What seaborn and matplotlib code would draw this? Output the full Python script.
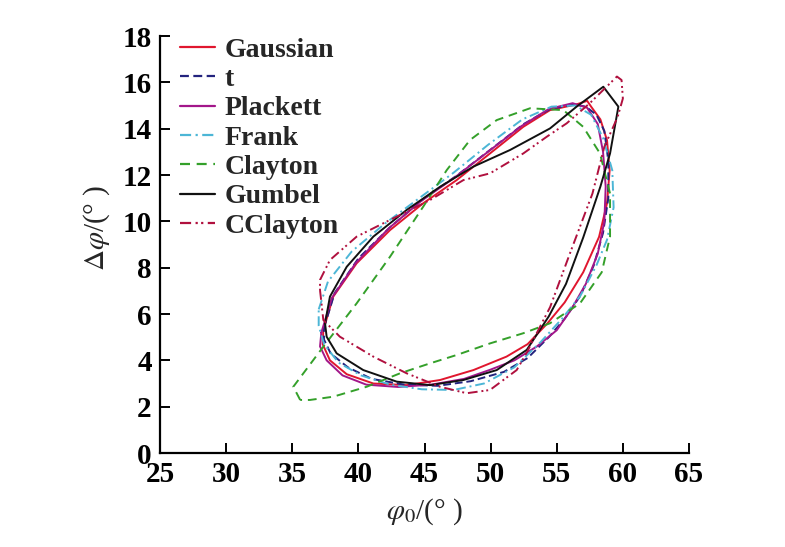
import numpy as np
import pandas as pd
import matplotlib
matplotlib.use("Agg")
import matplotlib.pyplot as plt
import seaborn as sns

# ---- data ----
models = ["Gaussian", "t", "Plackett", "Frank", "Clayton", "Gumbel", "CClayton"]

gauss_x = [37.35, 38.1, 39.87, 42.39, 44.9, 47.43, 49.95, 52.47, 54.49, 56.5, 57.3, 57.6, 58.3, 58.8, 59.0,
           58.8, 58.2, 57.0, 55.6, 54.3, 52.8, 51.2, 48.7, 46.17, 43.65, 41.13, 39.12, 37.85, 37.3]
gauss_y = [5.31, 6.75, 8.19, 9.62, 10.78, 11.78, 12.93, 14.08, 14.8, 15.05, 15.2, 14.95, 14.4, 13.5, 12.2,
           10.78, 9.33, 7.8, 6.5, 5.6, 4.7, 4.16, 3.58, 3.15, 2.93, 3.0, 3.4, 4.0, 4.7]

t_x = [37.4, 38.2, 40.0, 42.5, 45.0, 47.5, 50.0, 52.5, 54.5, 56.3, 57.2, 58.0, 58.6, 58.9, 58.9,
       58.5, 57.8, 56.8, 55.6, 54.4, 52.8, 51.0, 48.5, 46.0, 43.5, 41.0, 39.2, 37.9, 37.4]
t_y = [5.4, 6.9, 8.4, 9.8, 11.0, 12.0, 13.1, 14.2, 14.85, 15.05, 14.95, 14.6, 13.9, 12.6, 11.0,
       9.5, 8.1, 6.8, 5.8, 5.0, 4.1, 3.5, 3.1, 2.9, 2.95, 3.2, 3.7, 4.3, 4.9]

plackett_x = [37.2, 38.0, 39.8, 42.3, 44.8, 47.3, 49.8, 52.3, 54.4, 56.2, 57.3, 58.1, 58.5, 58.7, 58.6,
              58.1, 57.2, 56.1, 55.0, 53.5, 51.8, 50.0, 48.0, 45.5, 43.0, 40.6, 38.8, 37.6, 37.1]
plackett_y = [5.2, 6.7, 8.2, 9.7, 10.9, 11.9, 13.0, 14.1, 14.85, 15.1, 14.9, 14.2, 13.0, 11.5, 10.0,
              8.6, 7.3, 6.2, 5.3, 4.6, 4.0, 3.6, 3.2, 2.95, 2.85, 2.95, 3.35, 4.0, 4.6]

frank_x = [37.0, 37.7, 39.5, 42.0, 44.6, 47.2, 49.8, 52.4, 54.6, 56.4, 57.6, 58.5, 59.2, 59.3, 58.8,
           58.0, 56.8, 55.4, 53.8, 51.8, 49.5, 47.2, 44.8, 42.4, 40.2, 38.5, 37.4, 37.0]
frank_y = [6.2, 7.4, 8.7, 9.9, 11.0, 12.1, 13.3, 14.4, 14.95, 15.0, 14.6, 13.6, 12.2, 10.6, 9.2,
           8.1, 6.8, 5.8, 4.8, 3.7, 3.0, 2.72, 2.75, 2.95, 3.35, 3.9, 4.7, 5.5]

clayton_x = [35.6, 35.08, 37.35, 39.87, 42.39, 44.9, 46.68, 48.44, 50.46, 52.98, 55.5, 57.0, 58.27, 59.03,
             59.03, 58.4, 56.76, 54.49, 52.47, 49.95, 47.43, 45.42, 43.15, 40.63, 38.1, 36.34]
clayton_y = [2.29, 2.86, 4.59, 6.46, 8.47, 10.63, 12.21, 13.51, 14.37, 14.88, 14.8, 14.08, 12.93, 11.2,
             9.34, 7.8, 6.46, 5.6, 5.17, 4.73, 4.23, 3.87, 3.44, 2.86, 2.43, 2.29]

gumbel_x = [37.48, 37.85, 39.12, 41.13, 43.65, 46.17, 48.69, 51.47, 54.49, 56.5, 58.52, 59.66, 59.03,
            58.3, 57.0, 55.7, 54.4, 52.73, 50.46, 47.94, 45.42, 42.9, 40.37, 38.36, 37.6]
gumbel_y = [5.6, 6.75, 8.04, 9.34, 10.49, 11.49, 12.36, 13.08, 14.01, 14.95, 15.81, 14.95, 12.93,
            11.5, 9.3, 7.3, 5.9, 4.45, 3.58, 3.15, 2.93, 3.08, 3.58, 4.3, 5.02]

cclayton_x = [37.1, 37.35, 38.6, 41.13, 43.65, 46.17, 48.19, 49.95, 51.97, 52.7, 54.5, 56.0, 57.7, 58.6,
              59.6, 60.0, 59.9, 59.55, 57.5, 55.75, 54.24, 52.47, 49.95, 47.94, 45.42, 42.39, 39.87, 37.85, 37.1]
cclayton_y = [7.03, 5.74, 5.02, 4.16, 3.44, 2.86, 2.58, 2.72, 3.58, 4.3, 6.3, 8.62, 11.2, 13.22,
              14.5, 15.3, 16.1, 16.25, 15.1, 14.23, 13.65, 12.93, 12.07, 11.78, 10.92, 10.06, 9.34, 8.33, 7.47]

xticks = [25, 30, 35, 40, 45, 50, 55, 60, 65]
yticks = [0, 2, 4, 6, 8, 10, 12, 14, 16, 18]

series = {
    "Gaussian": (gauss_x, gauss_y),
    "t": (t_x, t_y),
    "Plackett": (plackett_x, plackett_y),
    "Frank": (frank_x, frank_y),
    "Clayton": (clayton_x, clayton_y),
    "Gumbel": (gumbel_x, gumbel_y),
    "CClayton": (cclayton_x, cclayton_y),
}

rows = []
for m in models:
    xs, ys = series[m]
    xs = list(xs) + [xs[0]]
    ys = list(ys) + [ys[0]]
    for i, (a, b) in enumerate(zip(xs, ys)):
        rows.append({"phi0": a, "dphi": b, "model": m, "idx": i})
df = pd.DataFrame(rows)

palette = {
    "Gaussian": "#e0162e",
    "t": "#23237e",
    "Plackett": "#a3168a",
    "Frank": "#4cb6d6",
    "Clayton": "#34a02a",
    "Gumbel": "#111111",
    "CClayton": "#b0103e",
}
dashes = {
    "Gaussian": "",
    "t": (4, 2),
    "Plackett": "",
    "Frank": (5, 2, 1, 2),
    "Clayton": (4.5, 3),
    "Gumbel": "",
    "CClayton": (5, 2, 1, 1.5, 1, 2),
}

sns.set_style("ticks")
plt.rcParams["font.family"] = ["Liberation Serif", "DejaVu Serif"]
plt.rcParams["mathtext.fontset"] = "stix"

fig = plt.figure(figsize=(7.85, 5.47), dpi=100)
ax = fig.add_axes([160 / 785, 1 - 453 / 547, (689 - 160) / 785, (453 - 36) / 547])

sns.lineplot(data=df, x="phi0", y="dphi", hue="model", style="model",
             hue_order=models, style_order=models, palette=palette, dashes=dashes,
             sort=False, estimator=None, units="model", linewidth=1.4, ax=ax)

ax.set_xlim(25, 65)
ax.set_ylim(0, 18)
ax.set_xticks(xticks)
ax.set_yticks(yticks)
ax.set_xticklabels([str(v) for v in xticks], fontsize=21, fontweight="bold")
ax.set_yticklabels([str(v) for v in yticks], fontsize=21, fontweight="bold")
ax.tick_params(direction="in", length=7, width=1.4, pad=6, colors="black")
for s in ["top", "right"]:
    ax.spines[s].set_visible(False)
for s in ["left", "bottom"]:
    ax.spines[s].set_linewidth(1.6)
    ax.spines[s].set_color("black")

ax.set_xlabel(r"$\varphi_0$/(° )", fontsize=21, labelpad=6)
ax.set_ylabel(r"$\Delta\varphi$/(° )", fontsize=21)
ax.yaxis.set_label_coords(-0.09, 0.54)

leg = ax.legend(loc="upper left", frameon=False, bbox_to_anchor=(0.028, 1.01),
                prop={"family": "Liberation Serif", "weight": "bold", "size": 20},
                handlelength=1.25, handletextpad=0.35, labelspacing=0.14,
                borderaxespad=0.0, borderpad=0.2)
for h in leg.get_lines():
    h.set_linewidth(1.6)

fig.savefig("out.png", dpi=100)
